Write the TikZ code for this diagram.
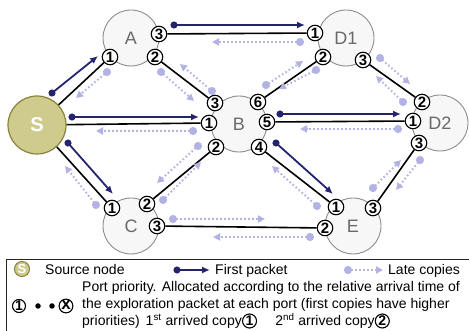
\documentclass[tikz,border=0pt]{standalone}
\usepackage{fontspec}
\setmainfont{Liberation Sans}
\usetikzlibrary{arrows.meta,calc}
\definecolor{navy}{RGB}{35,35,110}
\definecolor{lav}{RGB}{178,178,228}
\definecolor{ngray}{RGB}{140,140,140}
\definecolor{nfill}{RGB}{247,247,247}
\definecolor{sfill}{RGB}{207,203,140}
\definecolor{sdraw}{RGB}{135,130,60}
\definecolor{lblgray}{RGB}{105,105,105}
\pgfdeclarelayer{bg}
\pgfdeclarelayer{mid}
\pgfsetlayers{bg,mid,main}
\begin{document}
\begin{tikzpicture}[x=1pt,y=-1pt,
 big/.style={circle, draw=ngray, fill=nfill, line width=0.9pt, minimum size=56pt, inner sep=0pt, font=\fontsize{18}{18}\selectfont, text=lblgray},
 src/.style={circle, draw=sdraw, fill=sfill, line width=1.2pt, minimum size=58pt, inner sep=0pt, font=\fontsize{20}{20}\selectfont\bfseries, text=white},
 port/.style={circle, draw=black, fill=white, line width=1.1pt, minimum size=15.5pt, inner sep=0pt, font=\fontsize{15}{15}\selectfont\bfseries},
 link/.style={draw=black, line width=1.6pt},
 first/.style={draw=navy, line width=1.8pt, shorten <=-3.5pt, {Circle[length=7pt,width=7pt]}-{Latex[length=8pt,width=7pt]}},
 late/.style={draw=lav, line width=2pt, dash pattern=on 1.6pt off 2.4pt, shorten <=-4pt, {Circle[length=8pt,width=8pt]}-{Triangle[length=7pt,width=7pt]}},
 lt/.style={anchor=base west, inner sep=0pt, font=\fontsize{14}{17}\selectfont},
 lport/.style={circle, draw=black, fill=white, line width=1.1pt, minimum size=13pt, inner sep=0pt, font=\fontsize{14}{14}\selectfont\bfseries},
 dotn/.style={circle, fill=black, minimum size=5.5pt, inner sep=0pt}
]
\useasboundingbox (0,0) rectangle (469,331);

% big nodes
\begin{pgfonlayer}{bg}
\node[src] (S) at (37,125) {S};
\node[big] (A) at (131,38) {A};
\node[big] (D1) at (346,38) {D1};
\node[big] (B) at (239,124) {B};
\node[big] (D2) at (440,123) {D2};
\node[big] (C) at (131,226) {C};
\node[big] (E) at (353,226) {E};
\end{pgfonlayer}

% ports
\node[port] (A1) at (110,57) {1};
\node[port] (A2) at (155,57) {2};
\node[port] (A3) at (159,34) {3};
\node[port] (Da1) at (315,33) {1};
\node[port] (Da2) at (323,57) {2};
\node[port] (Da3) at (363,60) {3};
\node[port] (B1) at (209,123) {1};
\node[port] (B2) at (216,147) {2};
\node[port] (B3) at (215,103) {3};
\node[port] (B4) at (259,147) {4};
\node[port] (B5) at (267,122) {5};
\node[port] (B6) at (258,102) {6};
\node[port] (Db1) at (413,121) {1};
\node[port] (Db2) at (422,102) {2};
\node[port] (Db3) at (419,143) {3};
\node[port] (C1) at (112,208) {1};
\node[port] (C2) at (147,204) {2};
\node[port] (C3) at (157,226) {3};
\node[port] (E1) at (336,207) {1};
\node[port] (E2) at (325,228) {2};
\node[port] (E3) at (373,208) {3};

% links
\begin{pgfonlayer}{mid}
\draw[link] (S) -- (A1);
\draw[link] (A3) -- (Da1);
\draw[link] (A2) -- (B3);
\draw[link] (S) -- (B1);
\draw[link] (S) -- (C1);
\draw[link] (B2) -- (C2);
\draw[link] (C3) -- (E2);
\draw[link] (B6) -- (Da2);
\draw[link] (Da3) -- (Db2);
\draw[link] (B5) -- (Db1);
\draw[link] (B4) -- (E1);
\draw[link] (E3) -- (Db3);
\end{pgfonlayer}

% first packet arrows
\coordinate (fSA0) at (52,93);   \coordinate (fSA1) at (98,56);
\coordinate (fAD0) at (174,25);  \coordinate (fAD1) at (305,25);
\coordinate (fSB0) at (72,117);  \coordinate (fSB1) at (199,117);
\coordinate (fSC0) at (68,143);  \coordinate (fSC1) at (113,194);
\coordinate (fBD0) at (280,114); \coordinate (fBD1) at (401,114);
\coordinate (fBE0) at (276,143); \coordinate (fBE1) at (333,194);
\foreach \n in {SA,AD,SB,SC,BD,BE} \draw[first] (f\n0) -- (f\n1);

% late copies
\coordinate (lAS0) at (107,72);  \coordinate (lAS1) at (76,98);
\coordinate (lAB0) at (161,72);  \coordinate (lAB1) at (194,101);
\coordinate (lBA0) at (212,91);  \coordinate (lBA1) at (180,64);
\coordinate (lDA0) at (300,42);  \coordinate (lDA1) at (212,42);
\coordinate (lBS0) at (193,131); \coordinate (lBS1) at (96,131);
\coordinate (lBC0) at (198,146); \coordinate (lBC1) at (157,183);
\coordinate (lCB0) at (163,200); \coordinate (lCB1) at (201,162);
\coordinate (lCS0) at (96,205);  \coordinate (lCS1) at (65,166);
\coordinate (lCE0) at (173,219); \coordinate (lCE1) at (265,219);
\coordinate (lEC0) at (310,237); \coordinate (lEC1) at (213,237);
\coordinate (lEB0) at (317,206); \coordinate (lEB1) at (272,166);
\coordinate (lED0) at (373,188); \coordinate (lED1) at (401,160);
\coordinate (lDE0) at (420,160); \coordinate (lDE1) at (396,190);
\coordinate (lDB0) at (398,129); \coordinate (lDB1) at (300,129);
\coordinate (lFB0) at (316,70);  \coordinate (lFB1) at (279,89);
\coordinate (lBF0) at (266,85);  \coordinate (lBF1) at (303,61);
\coordinate (lFG0) at (380,58);  \coordinate (lFG1) at (410,84);
\coordinate (lGF0) at (403,102); \coordinate (lGF1) at (376,76);
\foreach \n in {AS,AB,BA,DA,BS,BC,CB,CS,CE,EC,EB,ED,DE,DB,FB,BF,FG,GF} \draw[late] (l\n0) -- (l\n1);

% legend
\fill[white] (6,259) rectangle (469,331);
\draw[line width=0.8pt, black!85] (6,335) -- (6,259) -- (470,259);
\node[src, minimum size=15pt, line width=1pt, font=\fontsize{13}{13}\selectfont\bfseries] (lS) at (22,269) {S};
\node[lt] (tS) at (45,275) {Source node};
\coordinate (lf0) at (177,270); \coordinate (lf1) at (210,270);
\draw[first] (lf0) -- (lf1);
\node[lt] (tF) at (215,275) {First packet};
\coordinate (ll0) at (348,270); \coordinate (ll1) at (383,270);
\draw[late] (ll0) -- (ll1);
\node[lt] (tL) at (388,275) {Late copies};

\node[lport] (lp1) at (19,306) {1};
\node[dotn] (ld1) at (38,306) {};
\node[dotn] (ld2) at (52,306) {};
\node[lport, font=\fontsize{17}{17}\selectfont\bfseries] (lpx) at (66,306) {\raisebox{1pt}{x}};

\node[lt] (t1) at (82,292) {Port priority. Allocated according to the relative arrival time of};
\node[lt] (t2) at (82,309) {the exploration packet at each port (first copies have higher};
\node[lt] (t3) at (82,326) {priorities)\hspace{6pt}1\textsuperscript{st} arrived copy};
\node[lport, minimum size=14pt, font=\fontsize{14}{14}\selectfont\bfseries] (q1) at ([xshift=7.5pt,yshift=5pt]t3.base east) {1};
\node[lt] (t4) at ([xshift=18pt,yshift=-5pt]q1.east) {2\textsuperscript{nd} arrived copy};
\node[lport, minimum size=14pt, font=\fontsize{14}{14}\selectfont\bfseries] (q2) at ([xshift=7.5pt,yshift=5pt]t4.base east) {2};
\end{tikzpicture}
\end{document}
